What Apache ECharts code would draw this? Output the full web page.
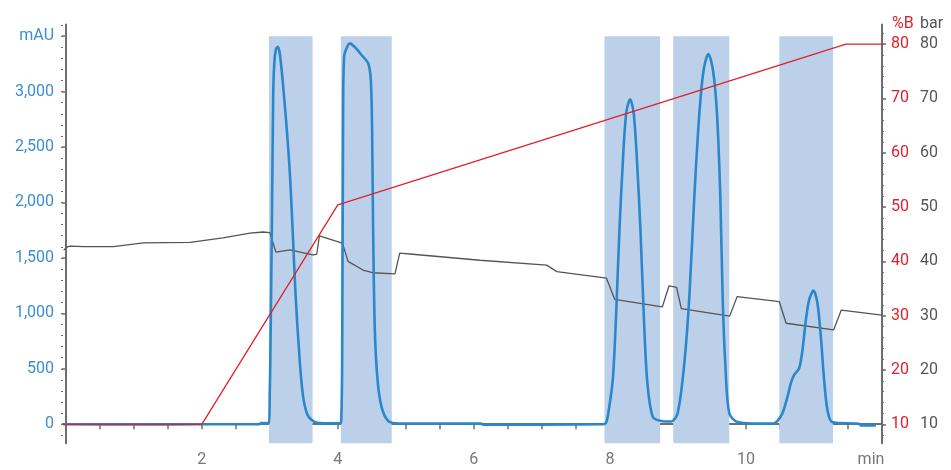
<!DOCTYPE html>
<html>
<head>
<meta charset="utf-8">
<script src="https://cdn.jsdelivr.net/npm/echarts@6/dist/echarts.min.js"></script>
<style>
  html, body { margin: 0; padding: 0; background: #fff; }
  #chart { width: 951px; height: 470px; }
</style>
</head>
<body>
<div id="chart"></div>
<script>
// UV absorbance trace [min, mAU]
var uvTrace = [
    [-0.04, 0], [1.0, -2], [2.0, 0], [2.84, 0], [2.87, 10], [2.985, 12],
    [3.0, 300], [3.007, 550], [3.03, 1752], [3.05, 2954], [3.066, 3255], [3.09, 3380], [3.116, 3405],
    [3.15, 3330], [3.21, 2954], [3.286, 2353], [3.336, 1752], [3.38, 1151], [3.443, 550], [3.49, 249],
    [3.55, 90], [3.615, 39], [3.70, 12], [3.85, 8], [4.04, 8],
    [4.052, 60], [4.064, 550], [4.079, 2954], [4.093, 3315], [4.118, 3375], [4.177, 3435], [4.26, 3395],
    [4.349, 3330], [4.446, 3255], [4.485, 3105], [4.504, 2654], [4.519, 1752], [4.544, 851], [4.584, 400],
    [4.642, 159], [4.739, 30], [4.88, 8], [6.1, 5], [6.15, -5], [7.9, 0],
    [7.94, 10], [7.968, 69], [8.042, 400], [8.092, 1001], [8.14, 1752], [8.189, 2353], [8.239, 2804],
    [8.297, 2930], [8.35, 2804], [8.40, 2353], [8.449, 1752], [8.497, 1001], [8.547, 400], [8.629, 69],
    [8.752, 30], [8.9, 25],
    [8.996, 99], [9.094, 550], [9.168, 1151], [9.241, 2052], [9.315, 2804], [9.378, 3195], [9.447, 3339],
    [9.515, 3195], [9.574, 2804], [9.623, 2052], [9.657, 1151], [9.696, 550], [9.755, 99], [9.877, 20],
    [10.2, 5], [10.4, 5],
    [10.464, 30], [10.537, 99], [10.611, 249], [10.66, 370], [10.709, 445], [10.782, 505], [10.831, 670],
    [10.881, 940], [10.929, 1121], [10.992, 1205], [11.051, 1091], [11.101, 790], [11.149, 400],
    [11.198, 129], [11.271, 18], [11.66, 5], [11.69, -10], [11.91, -10]
];

// gradient %B [min, %]
var gradientB = [[-0.04, 10], [2.0, 10], [4.0, 50.4], [11.47, 80], [12.0, 80]];

// system pressure [min, bar]
var pressure = [
    [-0.03, 42.1], [0.03, 42.7], [0.07, 42.8], [0.26, 42.7], [0.7, 42.7], [1.14, 43.4], [1.83, 43.5],
    [2.31, 44.3], [2.71, 45.2], [2.9, 45.4], [3.0, 45.3], [3.09, 41.7], [3.3, 42.1], [3.63, 41.2],
    [3.69, 41.3], [3.73, 44.7], [4.03, 43.5], [4.07, 43.3], [4.15, 40.0], [4.37, 38.4], [4.51, 37.9],
    [4.84, 37.7], [4.86, 37.8], [4.91, 41.5], [5.1, 41.3], [6.09, 40.2], [7.07, 39.3], [7.22, 38.1],
    [7.95, 36.9], [8.07, 33.0], [8.77, 31.6], [8.87, 35.5], [8.98, 35.2], [9.05, 31.3], [9.76, 29.9],
    [9.87, 33.5], [10.49, 32.6], [10.59, 28.6], [11.29, 27.4], [11.4, 31.0], [12.0, 30.1]
];

// collected fractions [start, end] in min
var fractions = [[2.988, 3.629], [4.045, 4.793], [7.92, 8.738], [8.93, 9.755], [10.49, 11.28]];

var mauTicks = [0, 500, 1000, 1500, 2000, 2500, 3000, 3500];
var rightTicks = [10, 20, 30, 40, 50, 60, 70, 80];
var timeLabels = [2, 4, 6, 8, 10, 12];

var mauMinor = [];
for (var m = -100; m <= 3600; m += 100) mauMinor.push(m);
var rightMinor = [];
for (var r = 8; r <= 82; r += 2) rightMinor.push(r);
var timeTicks = [];
for (var t = 0.5; t <= 11.5; t += 0.5) timeTicks.push(t);

var blue = '#2b87cb';
var blueText = '#3b8fd1';
var red = '#e0212b';
var grayLine = '#555555';
var axisGray = '#6e6e6e';
var font = 'Roboto';

var mauMin = -172, mauMax = 3605;
var rMin = 6.5, rMax = 83.6;

var chart = echarts.init(document.getElementById('chart'), null, { renderer: 'canvas' });

var option = {
    animation: false,
    grid: { left: 63, right: 69, top: 24.5, bottom: 26.7 },
    xAxis: [
        {
            type: 'value', min: -0.04, max: 12,
            axisLine: { show: true, lineStyle: { color: axisGray, width: 2 } },
            axisTick: { show: true, length: 5, customValues: timeTicks, lineStyle: { color: axisGray, width: 1.5 } },
            axisLabel: {
                customValues: timeLabels, color: '#777', fontSize: 16, fontFamily: font, margin: 9,
                formatter: function (v) { return v === 12 ? '{u|min}' : String(v); },
                rich: { u: { color: '#777', fontSize: 16, fontFamily: font, padding: [0, 22, 0, 0] } }
            },
            splitLine: { show: false }
        }
    ],
    yAxis: [
        {
            type: 'value', position: 'left', min: mauMin, max: mauMax,
            axisLine: { show: true, lineStyle: { color: axisGray, width: 2 } },
            axisTick: { show: true, length: 4, customValues: mauTicks, lineStyle: { color: axisGray, width: 1.5 } },
            axisLabel: {
                customValues: mauTicks, color: blueText, fontSize: 16, fontFamily: font, margin: 9,
                formatter: function (v) {
                    if (v === 3500) return 'mAU';
                    return String(v).replace(/\B(?=(\d{3})+(?!\d))/g, ',');
                }
            },
            splitLine: { show: false }
        },
        {
            type: 'value', position: 'left', min: mauMin, max: mauMax,
            axisLine: { show: false },
            axisTick: { show: true, length: 2, customValues: mauMinor, lineStyle: { color: axisGray, width: 1.2 } },
            axisLabel: { show: false },
            splitLine: { show: false }
        },
        {
            type: 'value', position: 'right', min: rMin, max: rMax,
            axisLine: { show: true, lineStyle: { color: axisGray, width: 2 } },
            axisTick: { show: true, length: 4, customValues: rightTicks, lineStyle: { color: axisGray, width: 1.5 } },
            axisLabel: { customValues: rightTicks, color: red, fontSize: 16, fontFamily: font, margin: 9 },
            splitLine: { show: false },
            name: '%B', nameLocation: 'end', nameGap: 1,
            nameTextStyle: { color: red, fontSize: 16, fontFamily: font, align: 'left', verticalAlign: 'middle', padding: [0, 0, 0, 10] }
        },
        {
            type: 'value', position: 'right', min: rMin, max: rMax,
            axisLine: { show: false },
            axisTick: { show: true, length: 2, customValues: rightMinor, lineStyle: { color: axisGray, width: 1.2 } },
            axisLabel: { show: false },
            splitLine: { show: false }
        },
        {
            type: 'value', position: 'right', offset: 29, min: rMin, max: rMax,
            axisLine: { show: false },
            axisTick: { show: false },
            axisLabel: { customValues: rightTicks, color: '#555', fontSize: 16, fontFamily: font, margin: 9 },
            splitLine: { show: false },
            name: 'bar', nameLocation: 'end', nameGap: 1,
            nameTextStyle: { color: '#555', fontSize: 16, fontFamily: font, align: 'left', verticalAlign: 'middle', padding: [0, 0, 0, 9] }
        }
    ],
    series: [
        {
            name: 'fractions', type: 'line', xAxisIndex: 0, yAxisIndex: 0, data: [], z: 1,
            markArea: {
                silent: true,
                itemStyle: { color: '#bdd0ea', opacity: 1 },
                data: fractions.map(function (f) {
                    return [{ xAxis: f[0], yAxis: mauMin }, { xAxis: f[1], yAxis: 3500 }];
                })
            }
        },
        {
            name: 'bar', type: 'line', xAxisIndex: 0, yAxisIndex: 2, data: pressure, z: 3,
            symbol: 'none', lineStyle: { color: grayLine, width: 1.3 }
        },
        {
            name: 'UV', type: 'line', xAxisIndex: 0, yAxisIndex: 0, data: uvTrace, z: 4,
            symbol: 'none', smooth: 0.3,
            lineStyle: { color: blue, width: 2.6 }
        },
        {
            name: '%B', type: 'line', xAxisIndex: 0, yAxisIndex: 2, data: gradientB, z: 5,
            symbol: 'none', lineStyle: { color: red, width: 1.3 }
        }
    ]
};

chart.setOption(option);
</script>
</body>
</html>
